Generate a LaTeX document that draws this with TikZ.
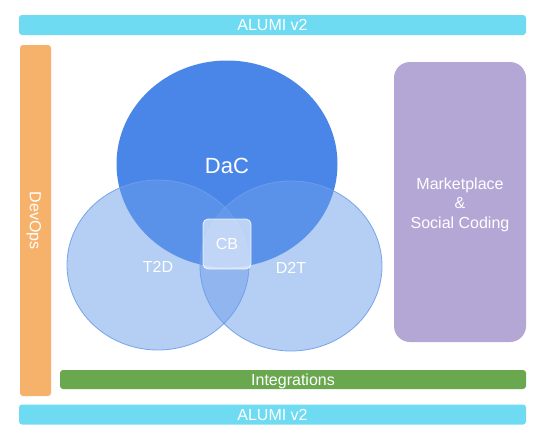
\documentclass[tikz,border=0pt]{standalone}
\usepackage{fontspec}
\setmainfont{Liberation Sans}
\usetikzlibrary{shapes.geometric}
\definecolor{barcyan}{HTML}{6FDBF2}
\definecolor{devorange}{HTML}{F6B26B}
\definecolor{intgreen}{HTML}{6AA84F}
\definecolor{mpurple}{HTML}{B4A7D6}
\definecolor{dacblue}{HTML}{4A86E8}
\definecolor{lightblue}{HTML}{6D9EEB}
\begin{document}
\begin{tikzpicture}[x=1pt,y=-1pt,
  lbl/.style={text=white, font=\fontsize{16}{19.5}\selectfont},
  bar/.style={lbl, rectangle, draw=none, rounded corners=3pt, inner sep=0pt,
    text height=11.5pt, text depth=0pt},
  venn/.style={lbl, ellipse, inner sep=0pt, fill=lightblue, fill opacity=0.5,
    text opacity=1, draw=lightblue, draw opacity=0.9, line width=0.8pt,
    text height=15.5pt, text depth=0pt},
]
\useasboundingbox (0,0) rectangle (559,434);
\fill[white] (0,0) rectangle (559,434);

% bars
\node[bar, fill=barcyan, minimum width=507pt, minimum height=20pt] (topbar) at (272.5,25) {ALUMI v2};
\node[bar, fill=barcyan, minimum width=507pt, minimum height=20pt] (botbar) at (272.5,414.5) {ALUMI v2};
\node[bar, fill=intgreen, minimum width=466pt, minimum height=19pt] (integ) at (293,379.5) {Integrations};
\node[bar, fill=devorange, rotate=-90, minimum width=351pt, minimum height=31pt] (devops) at (35.5,220.5) {DevOps};

% marketplace
\node[rectangle, rounded corners=16pt, fill=mpurple, minimum width=132pt,
  minimum height=280pt, inner sep=0pt] (mkt) at (460,202) {};
\node[lbl, align=center, inner sep=0pt] (mkttext) at (460,204.5)
  {Marketplace\\\&\\Social Coding};

% venn
\node[lbl, ellipse, inner sep=0pt, fill=dacblue, minimum width=221pt,
  minimum height=207pt, font=\fontsize{22}{26}\selectfont,
  text height=18pt, text depth=0pt] (dac) at (227,164) {DaC};
\node[venn, minimum width=182pt, minimum height=170pt] (t2d) at (158,265) {T2D};
\node[venn, minimum width=182pt, minimum height=170pt] (d2t) at (291,266) {D2T};

% CB
\node[lbl, rectangle, rounded corners=5pt, minimum width=48pt, minimum height=50pt,
  inner sep=0pt, fill=white, fill opacity=0.6, text opacity=1, draw=white,
  draw opacity=0.8, line width=0.8pt] (cb) at (227,244) {CB};
\end{tikzpicture}
\end{document}
